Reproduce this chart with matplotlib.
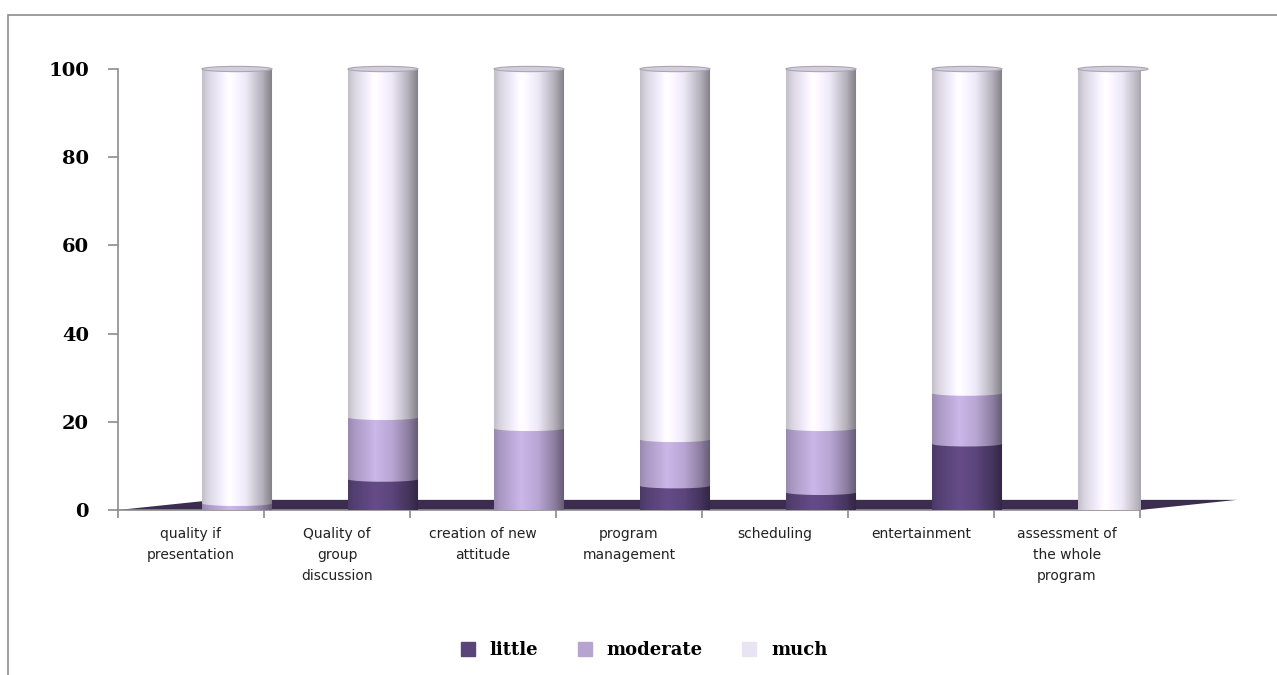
import numpy as np
import matplotlib.pyplot as plt
from matplotlib.colors import to_rgb
from matplotlib.patches import Ellipse, Polygon, PathPatch, Rectangle
from matplotlib.path import Path
from matplotlib.lines import Line2D

# survey answers in percent
categories = ["quality if\npresentation", "Quality of\ngroup\ndiscussion",
              "creation of new\nattitude", "program\nmanagement", "scheduling",
              "entertainment", "assessment of\nthe whole\nprogram"]
little = [0, 7, 0, 5.5, 4, 15, 0]
moderate = [1.5, 14, 18.5, 10.5, 14.5, 11.5, 0]
much = [98.5, 79, 81.5, 84, 81.5, 73.5, 100]

series = [("little", little, "#5A4479"),
          ("moderate", moderate, "#B6A3D0"),
          ("much", much, "#E9E4F1")]

W, H = 1277, 675
fig = plt.figure(figsize=(W / 100, H / 100), dpi=100)
ax = fig.add_axes([118 / W, 1 - 510 / H, 1022 / W, 441 / H])

# fake 3d: cylinders stand a bit behind the front plane
depth_x = 0.665
depth_y = 2.3
shift = 0.315
bw = 0.48
cap_h = 1.2

x = np.arange(len(categories))
xc = x + shift


def shade(base, n=80):
    # horizontal light profile of a lit cylinder
    t = np.linspace(0, 1, n)
    f = np.interp(t, [0, 0.08, 0.38, 0.62, 0.85, 1.0],
                  [0.84, 0.93, 1.12, 1.02, 0.78, 0.55])
    rgb = np.clip(np.array(to_rgb(base))[None, :] * f[:, None], 0, 1)
    return rgb[None, :, :]


# floor
floor = Polygon([(-0.5, 0), (6.5, 0), (6.5 + depth_x, depth_y), (-0.5 + depth_x, depth_y)],
                closed=True, fc="#3B2C50", ec="none", zorder=2, clip_on=False)
ax.add_patch(floor)

bottoms = np.zeros(len(categories))
theta = np.linspace(np.pi, 2 * np.pi, 40)
for name, vals, col in series:
    bars = ax.bar(xc, vals, bw, bottom=bottoms, color="none", linewidth=0, zorder=3)
    for rect in bars:
        h = rect.get_height()
        if h <= 0:
            continue
        x0, y0 = rect.get_x(), rect.get_y()
        y1 = y0 + h
        cx = x0 + bw / 2
        verts = [(x0, y1), (x0, y0)]
        verts += list(zip(cx + bw / 2 * np.cos(theta), y0 + cap_h / 2 * np.sin(theta)))
        verts += [(x0 + bw, y1), (x0, y1)]
        codes = [Path.MOVETO] + [Path.LINETO] * (len(verts) - 2) + [Path.CLOSEPOLY]
        clip = PathPatch(Path(verts, codes), transform=ax.transData, fc="none", ec="none")
        ax.add_patch(clip)
        im = ax.imshow(shade(col), extent=[x0, x0 + bw, y0 - cap_h, y1],
                       aspect="auto", zorder=3 + y0 / 200, interpolation="bilinear")
        im.set_clip_box(None)
        im.set_clip_path(clip)
    bottoms = bottoms + np.array(vals)

# top caps
for cx, top in zip(xc, bottoms):
    ax.add_patch(Ellipse((cx, top), bw, cap_h, fc="#D3CEDB", ec="#ABA5B4",
                         lw=0.8, zorder=4, clip_on=False))

ax.set_xlim(-0.5, 6.5)
ax.set_ylim(0, 100)

for s in ["top", "right"]:
    ax.spines[s].set_visible(False)
for s in ["left", "bottom"]:
    ax.spines[s].set_color("#8C8C8C")
    ax.spines[s].set_linewidth(1.2)

ax.set_yticks(range(0, 101, 20))
ax.tick_params(axis="y", direction="out", length=7, width=1.2, color="#8C8C8C",
               pad=14, labelsize=14)
for lab in ax.get_yticklabels():
    lab.set_fontfamily("DejaVu Serif")
    lab.set_fontweight("bold")

ax.set_xticks(np.arange(-0.5, 7, 1))
ax.set_xticklabels([])
ax.tick_params(axis="x", which="major", direction="out", length=6, width=1.2,
               color="#8C8C8C")
ax.set_xticks(x, minor=True)
ax.set_xticklabels(categories, minor=True, fontsize=10, color="#222222",
                   fontfamily="DejaVu Sans", linespacing=1.65)
ax.tick_params(axis="x", which="minor", length=0, pad=12)

handles = [Line2D([], [], marker="s", ls="none", ms=10, mfc=c, mec=c) for _, _, c in series]
fig.legend(handles, [n for n, _, _ in series], loc="center", bbox_to_anchor=(0.5, 1 - 650 / H),
           ncol=3, frameon=False, handletextpad=0.2, columnspacing=1.6,
           prop={"family": "DejaVu Serif", "weight": "bold", "size": 13})

# chart frame
fig.add_artist(Rectangle((8 / W, -0.1), 1.2, (H - 15) / H + 0.1, transform=fig.transFigure,
                         fill=False, ec="#8C8C8C", lw=1.2))

fig.savefig("out.png", dpi=100)
